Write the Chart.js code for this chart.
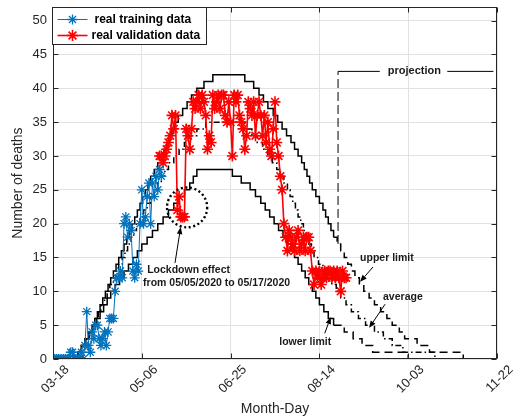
<!DOCTYPE html>
<html><head><meta charset="utf-8">
<script src="https://cdn.jsdelivr.net/npm/chart.js@4/dist/chart.umd.min.js"></script>
<style>html,body{margin:0;padding:0;background:#fff}#wrap{width:513px;height:419px;position:relative}</style>
</head><body><div id="wrap"><canvas id="c" width="513" height="419"></canvas></div>
<script>
// ---------- data ----------
const xTickLabels = ['03-18', '05-06', '06-25', '08-14', '10-03', '11-22'];

const trainStartDay = 0;
const trainDeaths = [0,0,0,0,0,0,0,0,0,0, 1,1,0,0,0,0,1,0,2,7, 2,1,4,3,5,5,3,2,3,4,
  2,4,6,6,6,10,12,12,13,12, 20,21,18,20,19,13,12,14,13,20, 25,20,21,24,26,20,26,24,27,25, 28,27];

const validStartDay = 60;
const validDeaths = [30,30,29,30,31,32,33,36,34,36, 22,24,21,21,21,34,33,31,34,38,
  37,38,39,37,39,38,36,31,33,32, 39,37,38,39,37,39,39,36,35,38, 35,30,39,38,39,36,35,34,31,33,
  38,37,36,38,33,36,38,36,33,36, 32,35,31,30,34,38,32,30,27,25, 20,18,16,19,18,17,16,18,19,16,
  17,18,16,18,18,16,13,11,13,12, 13,11,12,13,12,13,13,12,13,12, 13,12,10,13,12,12];

// step curves: day at which the curve takes the value
const upperDays = [11,14,16,18,20,22,23.5,25,26.5,28,29.5,31,32.5,34,35.5,37,38.5,40,41.5,43,44.5,46,47.5,49,50.5,52,53.5,55,57,59,61,62.5,64,65.5,67,68.5,70.5,73,75.5,78,81,85,90,
  108,113,116,118.5,121,124,126.5,129,131.5,134,136,138,140,141.5,143,144.5,146,148,150,152,153.5,155,156.5,158,160,162,164,166,168,170,172.5,175,178,181,184.5,188,191,195,198,205,212,231];
const upperDeaths = [0,1,2,3,4,5,6,7,8,9,10,11,12,13,14,15,16,17,18,19,20,21,22,23,24,25,26,27,28,29,30,31,32,33,34,35,36,37,38,39,40,41,42,
  41,40,39,38,37,36,35,34,33,32,31,30,29,28,27,26,25,24,23,22,21,20,19,18,17,16,15,14,13,12,11,10,9,8,7,6,5,4,3,2,1,0];

const averageDays = [11,14,16,18,20,22,24,25.5,27,29,30.5,32,34,35.5,37,39,40.5,42,44,45.5,47,49,51,53,55,57,59,61,63,65,68,71,74,77,81,86,
  108,112,115,118,121,123.5,126,128,130,132,133.5,135,136.5,138,139.5,141,142.5,144,145.5,147,149.5,152,154.5,157,159.5,162,165,168,172,176,181,186,191,197,215];
const averageDeaths = [0,1,2,3,4,5,6,7,8,9,10,11,12,13,14,15,16,17,18,19,20,21,22,23,24,25,26,27,28,29,30,31,32,33,34,35,
  34,33,32,31,30,29,28,27,26,25,24,23,22,21,20,19,18,17,16,15,14,13,12,11,10,9,8,7,6,5,4,3,2,1,0];

const lowerDays = [11,14,16,18.5,20.5,22.5,24.5,26.5,28.5,30.5,32.5,35,37.5,40,42.5,45,47.5,50,53,56,59,62,65,68,71,74,77,79,81,
  101,106,111,114,117,119.5,122,124.5,127,129.5,132,134,136,138,140,142,144,146,148,150,152.5,155,158,164,169,174,180,200];
const lowerDeaths = [0,1,2,3,4,5,6,7,8,9,10,11,12,13,14,15,16,17,18,19,20,21,22,23,24,25,26,27,28,
  27,26,25,24,23,22,21,20,19,18,17,16,15,14,13,12,11,10,9,8,7,6,5,4,3,2,1,0];

const projectionDay = 160.5;
const projMarkDays = [160.5, 160.5, 184];
const projMarkValues = [17, 42.5, 42.5];
const projMarkRightDays = [222, 248];
const projMarkRightValues = [42.5, 42.5];

const notes = [
  {text: 'projection', x: 203.5, y: 42.5, align: 'center', size: 11},
  {text: 'upper limit', x: 188, y: 14.9, align: 'center', size: 10.5},
  {text: 'average', x: 197, y: 9.1, align: 'center', size: 10.5},
  {text: 'lower limit', x: 142, y: 2.5, align: 'center', size: 10.5},
  {text: 'Lockdown effect', x: 53, y: 13.1, align: 'left', size: 10.5},
  {text: 'from 05/05/2020 to 05/17/2020', x: 50.7, y: 11.2, align: 'left', size: 10.5}
];
const arrows = [
  {x1: 180.2, y1: 13.6, x2: 172.9, y2: 11.4},
  {x1: 187, y1: 8.1, x2: 178, y2: 4.6},
  {x1: 153, y1: 3.8, x2: 156.4, y2: 6.2},
  {x1: 68.7, y1: 14.2, x2: 71.9, y2: 19.5}
];
const lockdownCircle = {x: 75.5, y: 22.4, rx: 11.3, ry: 2.95};

// ---------- build ----------
const pts = (xs, ys) => ys.map((v, i) => ({x: xs[i], y: v}));
const seq = (start, ys) => ys.map((v, i) => ({x: start + i, y: v}));
const FONT = '"Liberation Sans", Arial, Helvetica, sans-serif';
Chart.defaults.font.family = FONT;
const AX = '#262626';

const projDash = ctx => (ctx.p1.parsed.x > projectionDay - 0.6 && ctx.p0.parsed.x >= 155 ? [8, 5] : undefined);

function drawStar(ctx, x, y, r) {
  ctx.beginPath();
  ctx.moveTo(x - r, y); ctx.lineTo(x + r, y);
  ctx.moveTo(x, y - r); ctx.lineTo(x, y + r);
  const d = r * Math.SQRT1_2;
  ctx.moveTo(x - d, y - d); ctx.lineTo(x + d, y + d);
  ctx.moveTo(x - d, y + d); ctx.lineTo(x + d, y - d);
  ctx.stroke();
}

const overlay = {
  id: 'overlay',
  afterDatasetsDraw(chart) {
    const {ctx, chartArea: a, scales: {x, y}} = chart;
    ctx.save();
    // frame
    ctx.strokeStyle = AX; ctx.lineWidth = 1; ctx.setLineDash([]);
    const L = Math.round(a.left) + 0.5, R = Math.round(a.right) - 0.5, T = Math.round(a.top) + 0.5, B = Math.round(a.bottom) - 0.5;
    ctx.strokeRect(L, T, R - L, B - T);
    // inward ticks
    ctx.beginPath();
    x.ticks.forEach(t => { const p = Math.round(x.getPixelForValue(t.value)) + 0.5; ctx.moveTo(p, B); ctx.lineTo(p, B - 5); ctx.moveTo(p, T); ctx.lineTo(p, T + 5); });
    y.ticks.forEach(t => { const p = Math.round(y.getPixelForValue(t.value)) + 0.5; ctx.moveTo(L, p); ctx.lineTo(L + 5, p); ctx.moveTo(R, p); ctx.lineTo(R - 5, p); });
    ctx.stroke();
    // dotted circle
    ctx.strokeStyle = '#000'; ctx.lineWidth = 2.4; ctx.setLineDash([2, 2.6]);
    const cx = x.getPixelForValue(lockdownCircle.x), cy = y.getPixelForValue(lockdownCircle.y);
    const rx = x.getPixelForValue(lockdownCircle.x + lockdownCircle.rx) - cx;
    const ry = cy - y.getPixelForValue(lockdownCircle.y + lockdownCircle.ry);
    ctx.beginPath(); ctx.ellipse(cx, cy, rx, ry, 0, 0, Math.PI * 2); ctx.stroke();
    ctx.setLineDash([]);
    // arrows
    ctx.lineWidth = 1; ctx.strokeStyle = '#000'; ctx.fillStyle = '#000';
    arrows.forEach(ar => {
      const x1 = x.getPixelForValue(ar.x1), y1 = y.getPixelForValue(ar.y1);
      const x2 = x.getPixelForValue(ar.x2), y2 = y.getPixelForValue(ar.y2);
      const ang = Math.atan2(y2 - y1, x2 - x1), hl = 7, hw = 2.8;
      const bx = x2 - hl * Math.cos(ang), by = y2 - hl * Math.sin(ang);
      ctx.beginPath(); ctx.moveTo(x1, y1); ctx.lineTo(bx, by); ctx.stroke();
      ctx.beginPath(); ctx.moveTo(x2, y2);
      ctx.lineTo(bx + hw * Math.sin(ang), by - hw * Math.cos(ang));
      ctx.lineTo(bx - hw * Math.sin(ang), by + hw * Math.cos(ang));
      ctx.closePath(); ctx.fill();
    });
    // notes
    ctx.textBaseline = 'middle';
    notes.forEach(n => {
      ctx.font = 'bold ' + n.size + 'px ' + FONT;
      ctx.textAlign = n.align;
      ctx.fillStyle = '#1a1a1a';
      ctx.fillText(n.text, x.getPixelForValue(n.x), y.getPixelForValue(n.y));
    });
    // legend
    const lx = L - 1, ly = T, lw = 154, lh = 37;
    ctx.fillStyle = '#fff'; ctx.fillRect(lx, ly, lw, lh);
    ctx.strokeStyle = AX; ctx.lineWidth = 1; ctx.strokeRect(lx, ly, lw, lh);
    const items = chart.data.datasets.slice(0, 2);
    items.forEach((ds, i) => {
      const yy = ly + 12 + i * 16;
      ctx.strokeStyle = ds.borderColor; ctx.lineWidth = ds.borderWidth;
      ctx.beginPath(); ctx.moveTo(lx + 5, yy); ctx.lineTo(lx + 35, yy); ctx.stroke();
      ctx.lineWidth = ds.pointBorderWidth; drawStar(ctx, lx + 20, yy, ds.pointRadius);
      ctx.fillStyle = '#000'; ctx.font = 'bold 12px ' + FONT; ctx.textAlign = 'left';
      ctx.fillText(ds.label, lx + (i === 0 ? 42 : 39), yy + 0.5);
    });
    ctx.restore();
  }
};

new Chart(document.getElementById('c'), {
  type: 'line',
  data: {
    datasets: [
      {label: 'real training data', data: seq(trainStartDay, trainDeaths), borderColor: '#0072BD', backgroundColor: '#0072BD',
        borderWidth: 1, pointStyle: 'star', pointRadius: 5, pointBorderWidth: 1.3, pointHoverRadius: 5},
      {label: 'real validation data', data: seq(validStartDay, validDeaths), borderColor: '#FF0000', backgroundColor: '#FF0000',
        borderWidth: 1.6, pointStyle: 'star', pointRadius: 5.5, pointBorderWidth: 1.6, pointHoverRadius: 5.5},
      {label: 'upper limit', data: pts(upperDays, upperDeaths), borderColor: '#000', borderWidth: 1.5, pointRadius: 0, stepped: true,
        segment: {borderDash: projDash}},
      {label: 'average', data: pts(averageDays, averageDeaths), borderColor: '#000', borderWidth: 1.5, pointRadius: 0, stepped: true,
        borderDash: [6, 3, 1.5, 3]},
      {label: 'lower limit', data: pts(lowerDays, lowerDeaths), borderColor: '#000', borderWidth: 1.5, pointRadius: 0, stepped: true,
        segment: {borderDash: ctx => (ctx.p1.parsed.x > 158.5 ? [8, 5] : undefined)}},
      {label: 'projection mark', data: pts(projMarkDays, projMarkValues), borderColor: '#000', borderWidth: 1, pointRadius: 0,
        segment: {borderDash: ctx => (ctx.p0.parsed.x === ctx.p1.parsed.x ? [9, 4] : undefined)}},
      {label: 'projection mark right', data: pts(projMarkRightDays, projMarkRightValues), borderColor: '#000', borderWidth: 1, pointRadius: 0}
    ]
  },
  options: {
    responsive: false, animation: false, devicePixelRatio: 1,
    layout: {padding: {top: 7, right: 16, left: 0, bottom: 0}},
    plugins: {legend: {display: false}, tooltip: {enabled: false}},
    elements: {line: {tension: 0}},
    scales: {
      x: {
        type: 'linear', min: 0, max: 250,
        afterFit: s => { s.height = 60; s.paddingLeft = 0; s.paddingRight = 0; },
        ticks: {stepSize: 50, autoSkip: false, minRotation: 45, maxRotation: 45, labelOffset: 14, padding: 3,
          color: AX, font: {size: 13}, callback: v => xTickLabels[Math.round(v / 50)]},
        grid: {color: '#e2e2e2', drawTicks: false},
        border: {display: false},
        title: {display: true, text: 'Month-Day', color: AX, font: {size: 14}, padding: {top: 0, bottom: 1}}
      },
      y: {
        min: 0, max: 52,
        afterFit: s => { s.width = 53; s.paddingTop = 0; s.paddingBottom = 0; },
        ticks: {stepSize: 5, includeBounds: false, padding: 6, color: AX, font: {size: 13},
          callback: v => (v % 5 === 0 ? String(v) : '')},
        grid: {color: '#e2e2e2', drawTicks: false},
        border: {display: false},
        title: {display: true, text: 'Number of deaths', color: AX, font: {size: 14}, padding: {top: 9.5, bottom: 0}}
      }
    }
  },
  plugins: [overlay]
});
</script>
</body></html>
